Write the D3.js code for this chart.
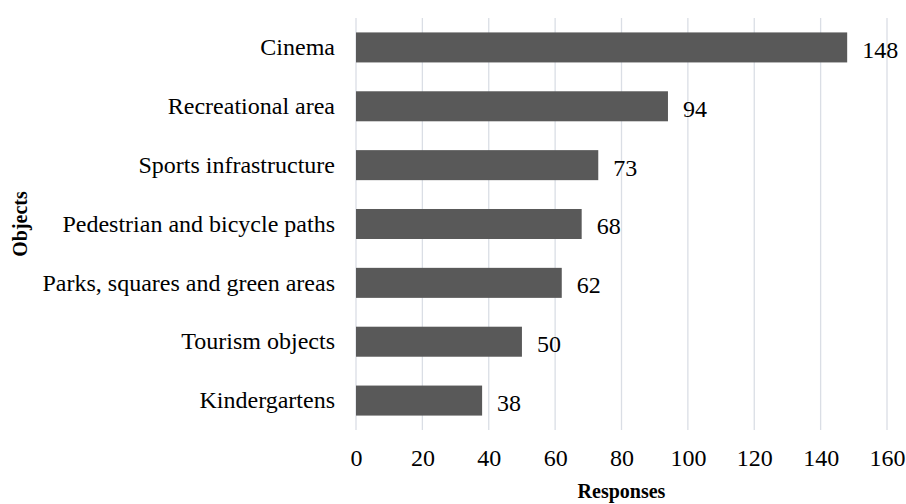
<!DOCTYPE html>
<html>
<head>
<meta charset="utf-8">
<script src="https://cdn.jsdelivr.net/npm/d3@7"></script>
<style>
  body { margin: 0; background: #fff; }
  text { font-family: "Liberation Serif", "Times New Roman", serif; fill: #000; }
</style>
</head>
<body>
<div id="chart"></div>
<script>
var categories = ["Cinema", "Recreational area", "Sports infrastructure", "Pedestrian and bicycle paths",
                  "Parks, squares and green areas", "Tourism objects", "Kindergartens"]
var responses = [148, 94, 73, 68, 62, 50, 38]
var xTicks = [0, 20, 40, 60, 80, 100, 120, 140, 160]

var width = 906, height = 504
var margin = {top: 18, right: 19, bottom: 74, left: 356}
var innerW = width - margin.left - margin.right
var innerH = height - margin.top - margin.bottom
var fontSize = "24px"

var svg = d3.select("#chart").append("svg")
    .attr("width", width)
    .attr("height", height)

var g = svg.append("g")
    .attr("transform", "translate(" + margin.left + "," + margin.top + ")")

var xScale = d3.scaleLinear()
    .domain([0, 160])
    .range([0, innerW])

var yScale = d3.scaleBand()
    .domain(categories)
    .range([0, innerH])
    .paddingInner(0.49)
    .paddingOuter(0.245)

// gridlines
g.selectAll(".grid")
    .data(xTicks)
  .enter().append("line")
    .attr("class", "grid")
    .attr("x1", d => xScale(d))
    .attr("x2", d => xScale(d))
    .attr("y1", 0)
    .attr("y2", innerH)
    .style("stroke", "#dadee5")
    .style("stroke-width", 1.3)

// bars
g.selectAll(".bar")
    .data(responses)
  .enter().append("rect")
    .attr("class", "bar")
    .attr("x", xScale(0))
    .attr("y", (d, i) => yScale(categories[i]))
    .attr("width", d => xScale(d) - xScale(0))
    .attr("height", yScale.bandwidth())
    .style("fill", "#595959")

// value labels
g.selectAll(".val")
    .data(responses)
  .enter().append("text")
    .attr("class", "val")
    .attr("x", d => xScale(d) + 15)
    .attr("y", (d, i) => yScale(categories[i]) + yScale.bandwidth() / 2 + 2)
    .attr("dy", "0.35em")
    .style("font-size", fontSize)
    .text(d => d)

// y axis (category labels only)
var yAxis = g.append("g")
    .call(d3.axisLeft(yScale).tickSize(0).tickPadding(21))
yAxis.select(".domain").remove()
yAxis.selectAll("text").style("font-size", fontSize).style("font-family", "'Liberation Serif', serif")

// x axis (tick labels only)
var xAxis = g.append("g")
    .attr("transform", "translate(0," + innerH + ")")
    .call(d3.axisBottom(xScale).tickValues(xTicks).tickSize(0).tickPadding(19))
xAxis.select(".domain").remove()
xAxis.selectAll("text").style("font-size", fontSize).style("font-family", "'Liberation Serif', serif")

// axis titles
svg.append("text")
    .attr("x", margin.left + innerW / 2)
    .attr("y", 498)
    .attr("text-anchor", "middle")
    .style("font-size", "20px")
    .style("font-weight", "bold")
    .text("Responses")

svg.append("text")
    .attr("transform", "translate(27," + (margin.top + innerH / 2) + ") rotate(-90)")
    .attr("text-anchor", "middle")
    .style("font-size", "20px")
    .style("font-weight", "bold")
    .text("Objects")
</script>
</body>
</html>
